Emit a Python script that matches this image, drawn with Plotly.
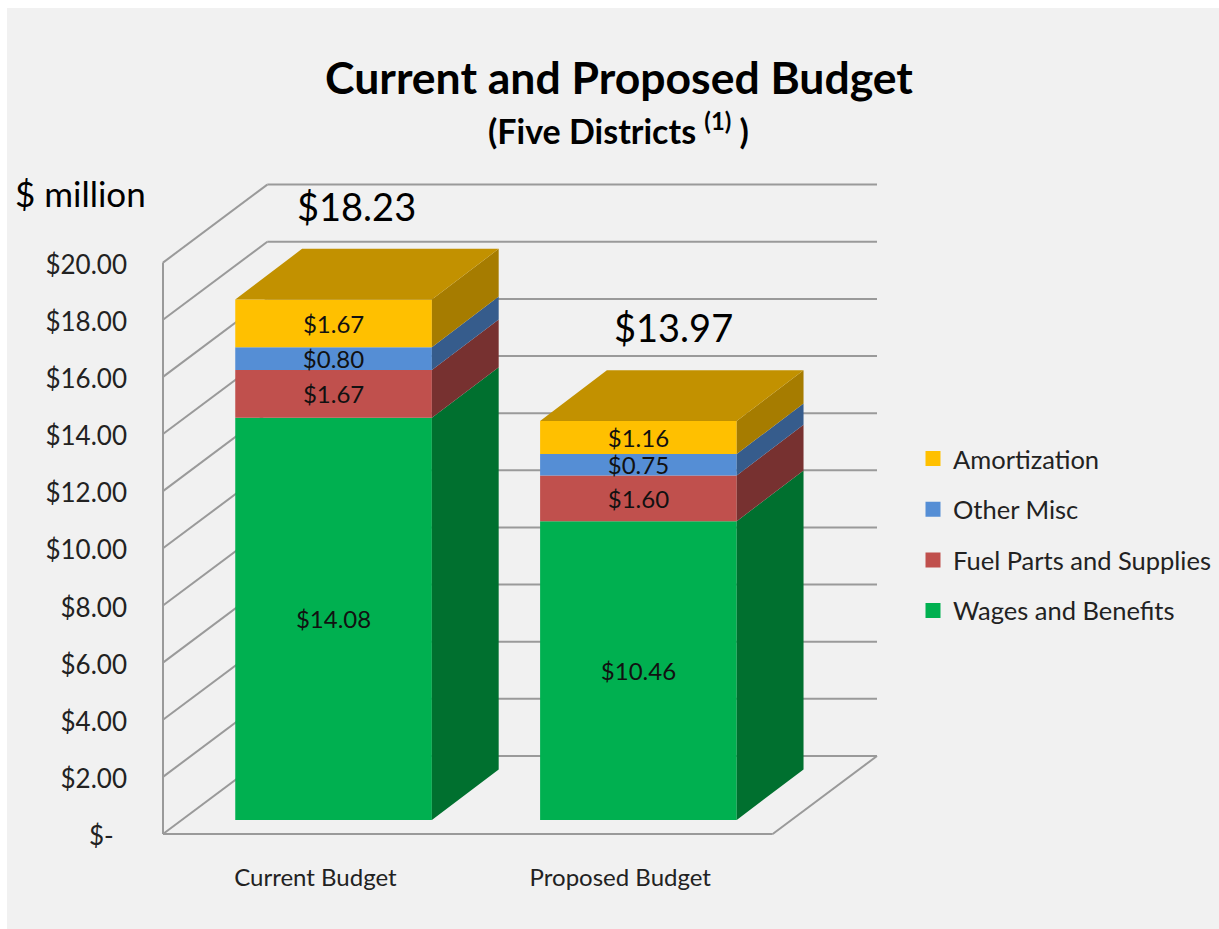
import plotly.graph_objects as go

# Budget figures, $ million
categories = ["Current Budget", "Proposed Budget"]
wages = [14.08, 10.46]
fuel = [1.67, 1.60]
other = [0.80, 0.75]
amortization = [1.67, 1.16]
totals = [18.23, 13.97]
y_ticks = list(range(0, 21, 2))
y_tick_labels = ["$-\u00a0\u00a0"] + [f"${v:.2f}" for v in y_ticks[1:]]

series = [
    ("Wages and Benefits", wages, "#00B050", "#00702F"),
    ("Fuel Parts and Supplies", fuel, "#C0504D", "#773130"),
    ("Other Misc", other, "#558ED5", "#365C8C"),
    ("Amortization", amortization, "#FFC000", "#A67C00"),
]
TOP_COLOR = "#C29100"
GRID = "#9A9A9A"
PANEL = "#F1F1F1"
FONT = "Lato, sans-serif"
INK = "#111111"

# Canvas and plot area in pixels
W, H = 1219, 929
M_L, M_R, M_T, M_B = 157, 336, 178, 89
PX_X = 304.85   # pixels per category step
PX_Y = 28.57    # pixels per $1 million
X0 = -0.5 - 6 / PX_X
X1 = X0 + (W - M_L - M_R) / PX_X
Y0 = -6 / PX_Y
Y1 = Y0 + (H - M_T - M_B) / PX_Y

# Oblique projection of the chart box and of the bars, in axis units
WALL_DX, WALL_DY = 104.3 / PX_X, 78 / PX_Y
BAR_DX, BAR_DY = 66.8 / PX_X, 50.6 / PX_Y
BAR_FLOOR = 14 / PX_Y
BAR_OFFSET, BAR_WIDTH = -0.263, 0.645
FLOOR_L, FLOOR_R = -0.5, 1.5


def paper_x(px):
    return (px - M_L) / (W - M_L - M_R)


def paper_y(px):
    return 1 - (px - M_T) / (H - M_T - M_B)


def line(x0, y0, x1, y1):
    return dict(type="line", xref="x", yref="y", x0=x0, y0=y0, x1=x1, y1=y1,
                layer="below", line=dict(color=GRID, width=2))


shapes = [dict(type="rect", xref="paper", yref="paper", layer="below", line_width=0,
               fillcolor=PANEL, x0=paper_x(7), x1=paper_x(W), y0=paper_y(H), y1=paper_y(8))]
for v in y_ticks:
    # left wall diagonal and back wall rule for every tick
    shapes.append(line(FLOOR_L, v, FLOOR_L + WALL_DX, v + WALL_DY))
    shapes.append(line(FLOOR_L + WALL_DX, v + WALL_DY, FLOOR_R + WALL_DX, v + WALL_DY))
shapes.append(line(FLOOR_L, 0, FLOOR_L, y_ticks[-1]))
shapes.append(line(FLOOR_L, 0, FLOOR_R, 0))
shapes.append(line(FLOOR_R, 0, FLOOR_R + WALL_DX, WALL_DY))

fig = go.Figure()
positions = list(range(len(categories)))
stack = [BAR_FLOOR] * len(categories)

for rank, (name, values, color, side_color) in enumerate(series):
    # front faces, labelled with their own value
    fig.add_bar(
        x=positions, y=values, base=list(stack), showlegend=False,
        width=BAR_WIDTH, offset=BAR_OFFSET, marker=dict(color=color, line_width=0),
        text=[f"${v:.2f}" for v in values], textposition="inside",
        insidetextanchor="middle", constraintext="none", textangle=0,
        insidetextfont=dict(family=FONT, size=24, color=INK), hoverinfo="skip",
    )
    # blank bar that only carries the legend key, its outline sizing the swatch
    fig.add_bar(
        x=[positions[0]], y=[None], name=name, legendgroup=name, legendrank=len(series) - rank,
        marker=dict(color=color, line=dict(color=color, width=3)), hoverinfo="skip",
    )
    # right-hand side faces of this segment
    xs, ys = [], []
    for i, v in enumerate(values):
        right = positions[i] + BAR_OFFSET + BAR_WIDTH
        bottom, top = stack[i], stack[i] + v
        xs += [right, right + BAR_DX, right + BAR_DX, right, right, None]
        ys += [bottom, bottom + BAR_DY, top + BAR_DY, top, bottom, None]
    fig.add_scatter(x=xs, y=ys, mode="lines", fill="toself", fillcolor=side_color,
                    line=dict(width=0), showlegend=False, hoverinfo="skip")
    stack = [s + v for s, v in zip(stack, values)]

# top faces of the stacks
xs, ys = [], []
for i, top in enumerate(stack):
    left = positions[i] + BAR_OFFSET
    right = left + BAR_WIDTH
    xs += [left, right, right + BAR_DX, left + BAR_DX, left, None]
    ys += [top, top, top + BAR_DY, top + BAR_DY, top, None]
fig.add_scatter(x=xs, y=ys, mode="lines", fill="toself", fillcolor=TOP_COLOR,
                line=dict(width=0), showlegend=False, hoverinfo="skip")

annotations = [
    dict(text="<b>(Five Districts <sup>(1)</sup> )</b>", xref="paper", yref="paper",
         x=paper_x(618), y=paper_y(129), showarrow=False, xanchor="center", yanchor="middle",
         font=dict(family=FONT, size=34, color="#000000")),
    dict(text="$ million", xref="paper", yref="paper", x=paper_x(13), y=paper_y(193),
         showarrow=False, xanchor="left", yanchor="middle",
         font=dict(family=FONT, size=35, color="#000000")),
]
total_nudges = [23 / PX_X, 35 / PX_X]
for i, total in enumerate(totals):
    annotations.append(dict(
        text=f"${total:.2f}", x=positions[i] + total_nudges[i] + BAR_OFFSET + BAR_WIDTH / 2,
        y=total + BAR_FLOOR + BAR_DY, yshift=43, showarrow=False,
        xanchor="center", yanchor="middle",
        font=dict(family=FONT, size=38, color="#000000"),
    ))

fig.update_layout(
    width=W, height=H, autosize=False,
    margin=dict(l=M_L, r=M_R, t=M_T, b=M_B, pad=0, autoexpand=False),
    paper_bgcolor="#FFFFFF", plot_bgcolor="rgba(0,0,0,0)",
    barmode="overlay", shapes=shapes, annotations=annotations,
    title=dict(text="<b>Current and Proposed Budget</b>", x=619 / W, xanchor="center",
               xref="container", y=1 - 78 / H, yanchor="middle",
               font=dict(family=FONT, size=44.5, color="#000000")),
    legend=dict(traceorder="grouped", tracegroupgap=14.5, x=paper_x(913), xanchor="left",
                y=paper_y(535), yanchor="middle", bgcolor="rgba(0,0,0,0)",
                font=dict(family=FONT, size=25.5, color="#222222"), itemclick=False, itemdoubleclick=False),
    xaxis=dict(range=[X0, X1], tickvals=positions, ticktext=categories, showgrid=False,
               zeroline=False, showline=False, ticks="", ticklabelstandoff=21,
               tickfont=dict(family=FONT, size=24, color="#222222")),
    yaxis=dict(range=[Y0, Y1], tickvals=y_ticks, ticktext=y_tick_labels, showgrid=False,
               zeroline=False, showline=False, ticks="", ticklabelstandoff=29,
               ticklabelshift=2, tickfont=dict(family=FONT, size=26, color="#222222")),
)

fig.write_html("out.html")
